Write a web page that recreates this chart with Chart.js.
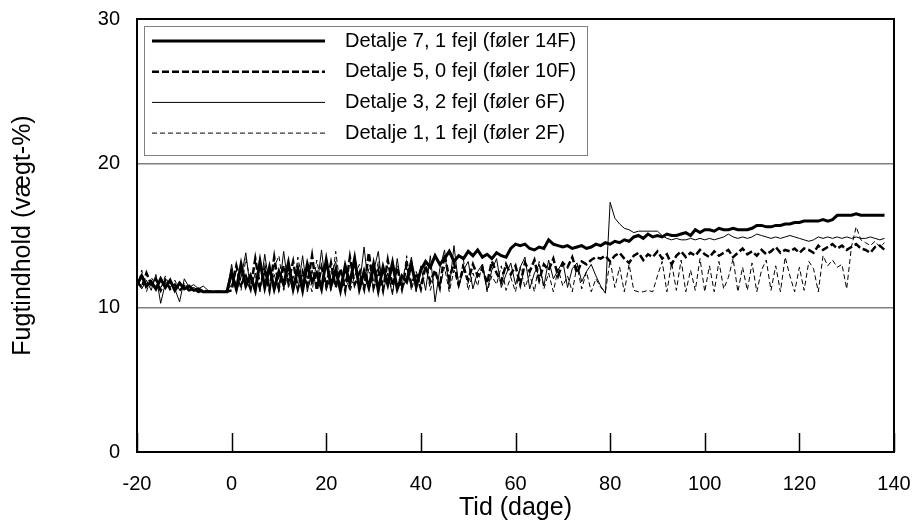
<!DOCTYPE html>
<html>
<head>
<meta charset="utf-8">
<script src="https://cdn.jsdelivr.net/npm/chart.js@4"></script>
<style>
  html, body { margin: 0; padding: 0; background: #fff; }
  #wrap { width: 917px; height: 526px; }
</style>
</head>
<body>
<div id="wrap"><canvas id="chart"></canvas></div>
<script>
// Days -20 .. 138, one reading per day
const firstDay = -20;
const lastDay = 138;
const days = [];
for (let d = firstDay; d <= lastDay; d++) days.push(d);

const seriesNames = [
  'Detalje 7, 1 fejl (føler 14F)',
  'Detalje 5, 0 fejl (føler 10F)',
  'Detalje 3, 2 fejl (føler 6F)',
  'Detalje 1, 1 fejl (føler 2F)'
];

// Fugtindhold (vægt-%)
const detalje7 = [
  11.6, 12.2, 11.5, 11.8, 11.3, 12.0, 11.4, 11.9, 11.2, 11.7, 11.3, 11.5, 11.2, 11.3, 11.1, 11.1, 11.1, 11.1, 11.1, 11.1,
  12.4, 11.3, 13.0, 11.5, 12.2, 11.2, 13.2, 11.4, 12.8, 11.3,
  12.5, 11.6, 13.1, 11.3, 12.7, 11.2, 13.0, 11.8, 12.4, 11.3,
  13.3, 11.5, 12.6, 11.2, 12.9, 11.7, 13.4, 11.3, 12.5, 11.4,
  13.0, 11.2, 12.8, 11.6, 13.1, 11.3, 12.2, 11.8, 13.0, 11.5,
  12.6, 13.2, 12.8, 13.6, 13.0, 13.4, 13.9, 13.2, 13.6, 13.4,
  13.9, 13.6, 14.0, 13.5, 13.7, 13.4, 13.8, 13.6, 13.5, 14.1,
  14.4, 14.3, 14.4, 14.1, 14.0, 14.2, 14.1, 14.7, 14.4, 14.3,
  14.2, 14.3, 14.1, 14.2, 14.3, 14.1, 14.2, 14.4, 14.3, 14.5,
  14.4, 14.6, 14.5, 14.7, 14.6, 14.9, 15.0, 14.8, 15.1, 14.9,
  15.0, 14.9, 15.1, 15.0, 15.0, 15.1, 15.2, 15.0, 15.4, 15.2,
  15.4, 15.4, 15.3, 15.5, 15.4, 15.4, 15.5, 15.4, 15.4, 15.4,
  15.5, 15.7, 15.7, 15.6, 15.6, 15.7, 15.7, 15.8, 15.8, 15.9,
  15.9, 16.0, 16.0, 16.0, 16.0, 16.1, 16.0, 16.1, 16.4, 16.4,
  16.4, 16.4, 16.5, 16.4, 16.4, 16.4, 16.4, 16.4, 16.4
];
const detalje5 = [
  11.8, 11.4, 12.4, 11.6, 12.0, 11.2, 11.9, 11.3, 11.6, 11.2, 11.5, 11.2, 11.3, 11.1, 11.2, 11.1, 11.1, 11.1, 11.1, 11.1,
  11.2, 12.9, 11.6, 12.2, 11.3, 13.4, 11.5, 12.6, 11.2, 13.5,
  11.4, 12.9, 11.8, 13.2, 11.3, 12.5, 11.6, 13.6, 11.2, 12.8,
  11.5, 13.1, 11.4, 12.7, 11.2, 13.5, 11.6, 12.4, 11.3, 13.8,
  11.4, 12.6, 11.2, 13.3, 11.5, 12.8, 11.3, 13.0, 11.6, 12.4,
  11.3, 12.9, 11.8, 12.6, 11.4, 13.7, 12.0, 13.1, 11.6, 12.8,
  11.9, 13.0, 12.2, 12.7, 11.7, 13.2, 12.4, 11.8, 13.0, 12.3,
  12.9, 11.6, 13.1, 12.5, 13.3, 11.9, 13.0, 12.6, 13.4, 12.2,
  13.1, 12.8, 13.5, 12.4, 13.2, 13.0, 13.3, 13.5, 13.4, 13.6,
  13.2, 13.6, 13.8, 13.4, 13.1, 13.6, 13.8, 13.3, 13.7, 13.5,
  13.9, 13.4, 13.7, 13.0, 13.6, 13.9, 13.5, 13.8, 13.6, 14.0,
  13.7, 13.5, 13.9, 13.6, 13.8, 14.0, 13.5, 13.8, 14.1, 13.7,
  13.9, 13.6, 14.0, 13.7, 13.9, 14.2, 13.8, 14.0, 13.9, 14.1,
  13.8, 14.1, 14.0, 13.8, 14.3, 14.0, 14.2, 14.4, 14.1, 14.3,
  14.0, 14.2, 14.4, 14.1, 14.0, 13.8, 14.2, 14.3, 14.0
];
const detalje3 = [
  12.0, 11.3, 11.9, 11.2, 12.3, 10.3, 11.7, 11.8, 11.3, 10.4, 12.0, 11.4, 11.6, 11.3, 11.5, 11.2, 11.1, 11.1, 11.1, 11.1,
  13.0, 11.1, 12.1, 13.8, 11.2, 12.4, 11.1, 13.7, 11.5, 12.3,
  11.1, 13.9, 11.4, 12.2, 11.2, 13.6, 11.1, 12.6, 11.3, 14.0,
  11.2, 12.3, 13.2, 11.1, 12.0, 11.3, 13.6, 11.5, 14.2, 11.2,
  12.5, 13.9, 11.1, 12.4, 10.9, 13.4, 11.2, 12.1, 13.5, 11.1,
  12.9, 11.2, 13.6, 10.4, 12.7, 14.0, 11.3, 14.3, 11.5, 12.6,
  13.2, 11.3, 12.5, 13.0, 11.2, 12.6, 13.4, 11.4, 12.3, 13.1,
  11.6, 12.8, 13.5, 11.3, 12.4, 13.0, 11.5, 13.3, 12.0, 12.6,
  13.2, 11.4, 12.7, 13.1, 11.8, 12.5, 13.0, 12.2, 11.5, 11.0,
  17.3, 16.2, 15.8, 15.5, 15.4, 15.2, 15.3, 15.3, 15.3, 15.3,
  15.3, 15.0, 14.8, 14.7, 14.8, 14.7, 14.7, 14.8, 14.7, 14.8,
  14.7, 14.8, 14.7, 14.8, 14.9, 15.1, 14.9, 14.8, 14.9, 14.8,
  14.9, 15.1, 15.0, 14.9, 14.8, 14.9, 14.8, 14.9, 15.0, 14.9,
  14.8, 14.7, 14.6, 14.7, 14.9, 14.8, 14.9, 14.8, 14.9, 14.8,
  14.9, 14.8, 14.9, 14.8, 14.8, 14.9, 14.8, 14.7, 14.8
];
const detalje1 = [
  11.4, 12.6, 11.1, 12.1, 11.6, 11.3, 12.2, 11.4, 11.9, 11.2, 11.7, 11.3, 11.4, 11.2, 11.1, 11.1, 11.1, 11.1, 11.1, 11.1,
  11.6, 12.6, 11.2, 13.4, 11.8, 12.2, 11.3, 13.1, 11.2, 12.8,
  13.6, 11.2, 12.4, 11.1, 13.5, 11.8, 12.2, 11.1, 13.3, 11.6,
  12.1, 11.2, 13.9, 11.4, 12.6, 11.1, 12.2, 13.0, 11.2, 12.7,
  11.3, 13.2, 11.6, 12.3, 11.1, 12.9, 11.4, 13.6, 11.2, 12.5,
  11.6, 13.1, 11.2, 12.4, 11.5, 12.8, 11.1, 12.6, 11.4, 13.3,
  11.2, 12.4, 11.5, 13.1, 11.1, 12.2, 11.6, 12.9, 11.2, 12.1,
  11.1, 12.8, 11.4, 12.3, 11.1, 13.2, 11.3, 12.4, 11.1, 12.7,
  11.5, 12.2, 11.1, 12.9, 11.3, 12.5, 11.1, 12.0, 11.4, 11.1,
  13.3, 11.4, 12.8, 11.1, 13.0, 11.2, 11.1, 11.1, 11.2, 11.1,
  12.2, 13.2, 11.1, 13.1, 11.2, 13.3, 11.1, 12.6, 11.2, 13.4,
  11.1, 12.9, 11.1, 13.2, 11.3, 12.1, 13.4, 11.1, 12.8, 11.2,
  13.1, 11.1, 12.6, 13.3, 11.2, 12.9, 11.1, 13.5, 12.2, 11.1,
  12.8, 11.2, 13.2, 12.7, 11.1, 13.6, 12.9, 13.3, 12.8, 13.0,
  11.3, 14.2, 15.6, 14.7, 14.5, 14.3, 14.6, 14.2, 14.5
];

const xTicks = [-20, 0, 20, 40, 60, 80, 100, 120, 140];
const yTicks = [0, 10, 20, 30];

const styles = [
  { width: 3, dash: [] },
  { width: 2.5, dash: [7, 3] },
  { width: 1, dash: [] },
  { width: 1, dash: [5, 3] }
];
const allSeries = [detalje7, detalje5, detalje3, detalje1];

const font = 'Liberation Sans, Arial, sans-serif';

// Inside x tick marks, frame and the boxed legend
const decor = {
  id: 'decor',
  afterDraw(chart) {
    const { ctx, chartArea: a, scales: { x } } = chart;
    ctx.save();
    ctx.strokeStyle = '#000';
    ctx.lineWidth = 1.5;
    xTicks.forEach(t => {
      const px = Math.round(x.getPixelForValue(t)) + 0.5;
      ctx.beginPath();
      ctx.moveTo(px, a.bottom);
      ctx.lineTo(px, a.bottom - 19);
      ctx.stroke();
    });
    ctx.lineWidth = 2;
    ctx.strokeRect(a.left, a.top, a.right - a.left, a.bottom - a.top);

    // legend
    const lx = a.left + 7, ly = a.top + 7, lw = 443, lh = 129;
    ctx.fillStyle = '#fff';
    ctx.fillRect(lx, ly, lw, lh);
    ctx.strokeStyle = '#808080';
    ctx.lineWidth = 1;
    ctx.strokeRect(lx + 0.5, ly + 0.5, lw, lh);
    ctx.font = '20px ' + font;
    ctx.textBaseline = 'middle';
    ctx.fillStyle = '#000';
    seriesNames.forEach((name, i) => {
      const y = ly + 15 + i * 30.7;
      ctx.strokeStyle = '#000';
      ctx.lineWidth = styles[i].width;
      ctx.setLineDash(styles[i].dash);
      ctx.beginPath();
      ctx.moveTo(lx + 8, y);
      ctx.lineTo(lx + 181, y);
      ctx.stroke();
      ctx.setLineDash([]);
      ctx.fillText(name, lx + 201, y);
    });
    ctx.restore();
  }
};

new Chart(document.getElementById('chart'), {
  type: 'line',
  data: {
    datasets: allSeries.map((vals, i) => ({
      label: seriesNames[i],
      data: vals.map((v, j) => ({ x: days[j], y: v })),
      borderColor: '#000',
      borderWidth: styles[i].width,
      borderDash: styles[i].dash,
      pointRadius: 0,
      tension: 0,
      fill: false
    }))
  },
  options: {
    responsive: true,
    maintainAspectRatio: false,
    animation: false,
    layout: { padding: { top: 19, right: 23, left: 0, bottom: 0 } },
    plugins: { legend: { display: false }, tooltip: { enabled: false } },
    scales: {
      x: {
        type: 'linear',
        min: -20,
        max: 140,
        afterBuildTicks: s => { s.ticks = xTicks.map(v => ({ value: v })); },
        afterFit: s => { s.height = 74; s.paddingLeft = 0; s.paddingRight = 0; },
        grid: { display: false, drawTicks: false },
        border: { display: true, color: '#000', width: 2 },
        ticks: { color: '#000', padding: 20, font: { family: font, size: 20 } },
        title: {
          display: true,
          text: 'Tid (dage)',
          color: '#000',
          padding: { top: 0, bottom: 3 },
          font: { family: font, size: 25 }
        }
      },
      y: {
        min: 0,
        max: 30,
        afterBuildTicks: s => { s.ticks = yTicks.map(v => ({ value: v })); },
        afterFit: s => { s.width = 137; s.paddingTop = 0; s.paddingBottom = 0; },
        grid: { color: '#808080', lineWidth: 1.5, drawTicks: false },
        border: { display: true, color: '#000', width: 2 },
        ticks: { color: '#000', padding: 17, font: { family: font, size: 20 } },
        title: {
          display: true,
          text: 'Fugtindhold (vægt-%)',
          color: '#000',
          padding: { top: 8, bottom: 0 },
          font: { family: font, size: 25 }
        }
      }
    }
  },
  plugins: [decor]
});
</script>
</body>
</html>
